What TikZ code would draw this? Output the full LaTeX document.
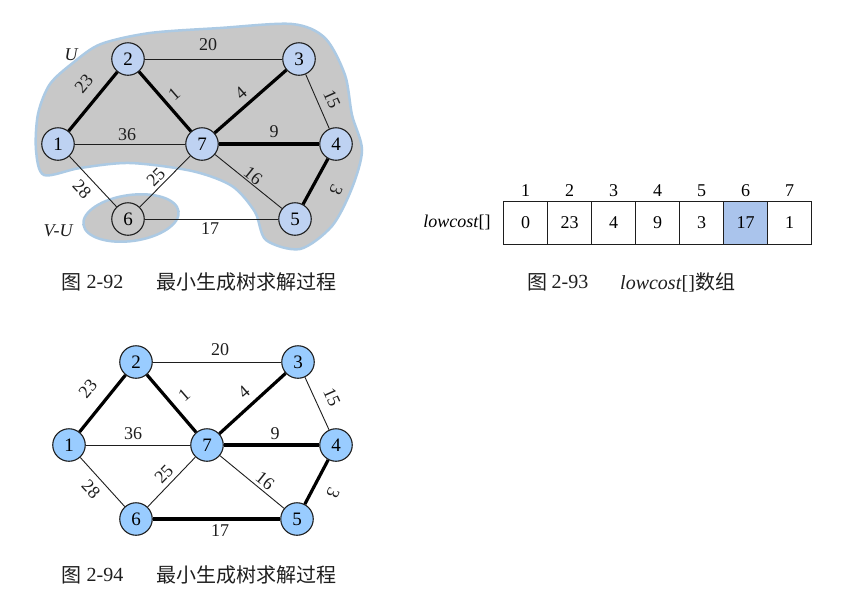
\documentclass[tikz,border=0pt]{standalone}
\usepackage{fontspec}
\setmainfont{Liberation Serif}
\newfontfamily\cjk{Noto Sans CJK SC}
\definecolor{blobgray}{RGB}{200,200,200}
\definecolor{blobedge}{RGB}{172,202,228}
\definecolor{ntop}{RGB}{190,210,242}
\definecolor{nbot}{RGB}{153,204,255}
\definecolor{cellblue}{RGB}{170,196,236}
\definecolor{ink}{RGB}{30,30,30}
\begin{document}
\begin{tikzpicture}[x=1pt,y=-1pt,
  vtx/.style={circle,draw=ink,line width=1.1pt,minimum size=32.5pt,inner sep=0pt,font=\fontsize{19}{19}\selectfont},
  topv/.style={vtx,fill=ntop},
  botv/.style={vtx,fill=nbot},
  lightedge/.style={draw=ink,line width=0.9pt},
  heavyedge/.style={draw=black,line width=3.2pt},
  elab/.style={inner sep=0pt,text=ink,font=\fontsize{18}{18}\selectfont},
  cell/.style={draw=ink,line width=1.2pt,minimum width=44pt,minimum height=42.5pt,inner sep=0pt,font=\fontsize{18}{18}\selectfont},
  idx/.style={inner sep=0pt,font=\fontsize{18}{18}\selectfont},
  capl/.style={inner sep=0pt,text=ink,font=\fontsize{20}{20}\selectfont},
  capc/.style={inner sep=0pt,text=ink,font=\cjk\fontsize{20}{20}\selectfont}
]
\useasboundingbox (0,0) rectangle (845,606);
\fill[white] (0,0) rectangle (845,606);

% ---------- blobs of figure 2-92 ----------
\fill[blobgray,draw=blobedge,line width=2.5pt] plot[smooth cycle,tension=0.5] coordinates {
 (36,150) (38,114) (50,84) (74,62) (101,44) (150,33) (220,28) (292,24) (325,38) (345,75)
 (352,115) (362,150) (352,188) (332,226) (300,249) (266,240) (255,212) (232,186)
 (192,171) (130,163) (80,168) (44,175)};
\fill[blobgray,draw=blobedge,line width=2.5pt,rotate around={8:(131,218)}] (131,218) ellipse [x radius=48pt,y radius=23pt];

% ---------- figure 2-92 graph ----------
\node[topv] (a1) at (58,144) {1};
\node[topv] (a2) at (128,59) {2};
\node[topv] (a3) at (299,59) {3};
\node[topv] (a7) at (202,144) {7};
\node[topv] (a4) at (336,144) {4};
\node[vtx]  (a6) at (128,219) {6};
\node[topv] (a5) at (295,219) {5};

\draw[lightedge] (a2) -- (a3);
\draw[lightedge] (a3) -- (a4);
\draw[lightedge] (a1) -- (a7);
\draw[lightedge] (a1) -- (a6);
\draw[lightedge] (a6) -- (a7);
\draw[lightedge] (a7) -- (a5);
\draw[lightedge] (a6) -- (a5);
\draw[heavyedge] (a1) -- (a2);
\draw[heavyedge] (a2) -- (a7);
\draw[heavyedge] (a7) -- (a3);
\draw[heavyedge] (a7) -- (a4);
\draw[heavyedge] (a4) -- (a5);

\node[elab] (la20) at (208,45) {20};
\node[elab,rotate=50] (la23) at (84,84) {23};
\node[elab,rotate=41] (la1) at (174,94) {1};
\node[elab,rotate=41] (la4) at (241,93) {4};
\node[elab,rotate=-66] (la15) at (332,99) {15};
\node[elab] (la36) at (127,135) {36};
\node[elab] (la9) at (274,132) {9};
\node[elab,rotate=46] (la25) at (156,177) {25};
\node[elab,rotate=-39] (la16) at (253,176) {16};
\node[elab,rotate=-47] (la28) at (82,189) {28};
\node[elab,rotate=-115] (la3) at (336,190) {3};
\node[elab] (la17) at (210,229) {17};
\node[elab,font=\fontsize{18}{18}\selectfont\itshape] (lU) at (71,55) {U};
\node[elab,font=\fontsize{18}{18}\selectfont\itshape] (lVU) at (58,231) {V-U};

\node[capc] (c1a) at (71,282) {图};
\node[capl] (c1b) at (105,282) {2-92};
\node[capc] (c1c) at (246,282) {最小生成树求解过程};

% ---------- figure 2-93 array ----------
\node[inner sep=0pt,font=\fontsize{18}{18}\selectfont] (lc) at (457,222) {\textit{lowcost}[]};
\foreach \i/\v/\f in {1/0/white,2/23/white,3/4/white,4/9/white,5/3/white,6/17/cellblue,7/1/white}{
  \node[cell,fill=\f] (c\i) at ({525.6+44*(\i-1)},223) {\v};
  \node[idx] (i\i) at ({525.6+44*(\i-1)},191) {\i};
}
\node[capc] (c2a) at (537,282) {图};
\node[capl] (c2b) at (570,282) {2-93};
\node[capl,anchor=west] (c2c) at (620,282) {\textit{lowcost}[]{\cjk 数组}};

% ---------- figure 2-94 graph ----------
\node[botv] (b1) at (69,445) {1};
\node[botv] (b2) at (136,362) {2};
\node[botv] (b3) at (298,362) {3};
\node[botv] (b7) at (207,445) {7};
\node[botv] (b4) at (336,445) {4};
\node[botv] (b6) at (136,519) {6};
\node[botv] (b5) at (297,519) {5};

\draw[lightedge] (b2) -- (b3);
\draw[lightedge] (b3) -- (b4);
\draw[lightedge] (b1) -- (b7);
\draw[lightedge] (b1) -- (b6);
\draw[lightedge] (b6) -- (b7);
\draw[lightedge] (b7) -- (b5);
\draw[heavyedge] (b1) -- (b2);
\draw[heavyedge] (b2) -- (b7);
\draw[heavyedge] (b7) -- (b3);
\draw[heavyedge] (b7) -- (b4);
\draw[heavyedge] (b4) -- (b5);
\draw[heavyedge] (b6) -- (b5);

\node[elab] (lb20) at (220,350) {20};
\node[elab,rotate=50] (lb23) at (88,389) {23};
\node[elab,rotate=41] (lb1) at (184,395) {1};
\node[elab,rotate=41] (lb4) at (244,392) {4};
\node[elab,rotate=-66] (lb15) at (332,397) {15};
\node[elab] (lb36) at (133,434) {36};
\node[elab] (lb9) at (275,434) {9};
\node[elab,rotate=46] (lb25) at (164,474) {25};
\node[elab,rotate=-39] (lb16) at (265,481) {16};
\node[elab,rotate=-47] (lb28) at (91,489) {28};
\node[elab,rotate=-115] (lb3) at (333,493) {3};
\node[elab] (lb17) at (220,531) {17};

\node[capc] (c3a) at (71,575) {图};
\node[capl] (c3b) at (105,575) {2-94};
\node[capc] (c3c) at (246,575) {最小生成树求解过程};
\end{tikzpicture}
\end{document}
